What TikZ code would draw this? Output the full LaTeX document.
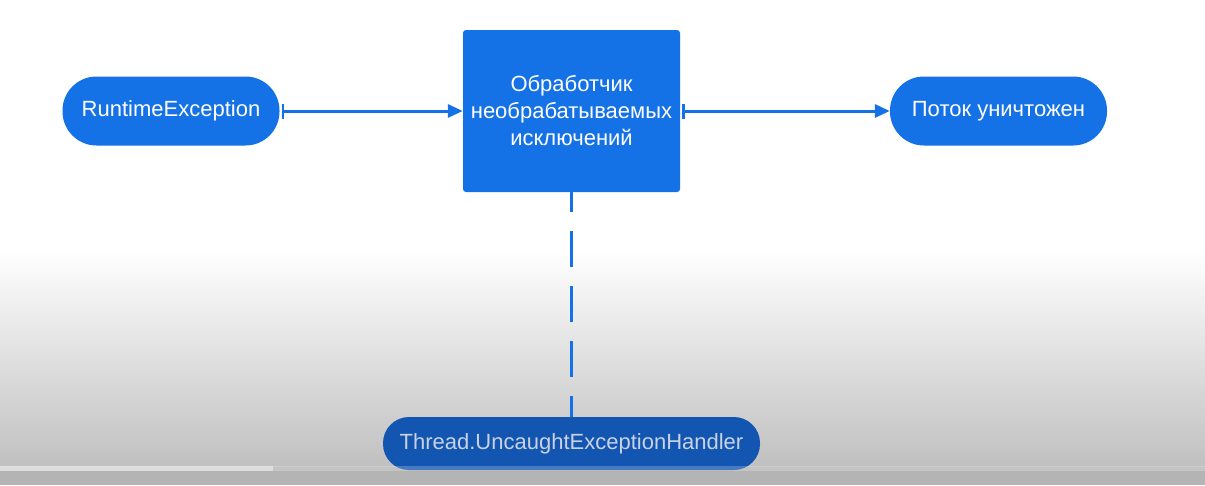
\documentclass[tikz,border=0pt]{standalone}
\usepackage{fontspec}
\setmainfont{Liberation Sans}
\usetikzlibrary{arrows.meta,shapes.geometric}
\definecolor{lblue}{HTML}{1471E6}
\definecolor{dblue}{HTML}{1256B2}
\definecolor{btext}{HTML}{C9D2E2}
\definecolor{bggrey}{RGB}{192,192,192}
\definecolor{bottomgrey}{RGB}{180,180,180}
\tikzset{
  stadium/.style={draw=none, fill=lblue, rounded corners=34pt, minimum width=217pt, minimum height=69pt, inner sep=0pt, text=white, font=\fontsize{22}{27}\selectfont},
  procbox/.style={draw=none, fill=lblue, rounded corners=3pt, minimum width=217pt, minimum height=162pt, inner sep=0pt, text=white, align=center, font=\fontsize{22}{27}\selectfont},
  handler/.style={draw=none, fill=dblue, rounded corners=26pt, minimum width=377pt, minimum height=53pt, inner sep=0pt, text=btext, font=\fontsize{22}{27}\selectfont},
  flow/.style={draw=lblue, line width=3pt, {Bar[width=15pt,line width=2.5pt]}-{Triangle[length=15pt,width=13pt]}},
  link/.style={draw=lblue, line width=3pt, dash pattern=on 36pt off 19pt, dash phase=16pt}
}
\begin{document}
\begin{tikzpicture}[x=1pt,y=-1pt]
  \useasboundingbox (0,0) rectangle (1205,485);
  \fill[white] (0,0) rectangle (1205,250);
  \shade[top color=white, bottom color=bggrey] (0,250) rectangle (1205,467);
  \fill[bottomgrey] (0,467) rectangle (1205,485);
  \node[stadium] (re) at (171,111) {RuntimeException};
  \node[procbox] (h) at (571.5,111) {Обработчик\\необрабатываемых\\исключений};
  \node[stadium] (pd) at (998.5,111) {Поток уничтожен};
  \node[handler] (u) at (571.5,443.5) {Thread.UncaughtExceptionHandler};
  \draw[flow] ([xshift=2pt]re.east) -- (h.west);
  \draw[flow] ([xshift=2pt]h.east) -- (pd.west);
  \draw[link] (h.south) -- (u.north);
  \fill[white, opacity=0.22] (273,466) rectangle (1205,471);
  \fill[white, opacity=0.55] (0,466) rectangle (273,471);
\end{tikzpicture}
\end{document}
